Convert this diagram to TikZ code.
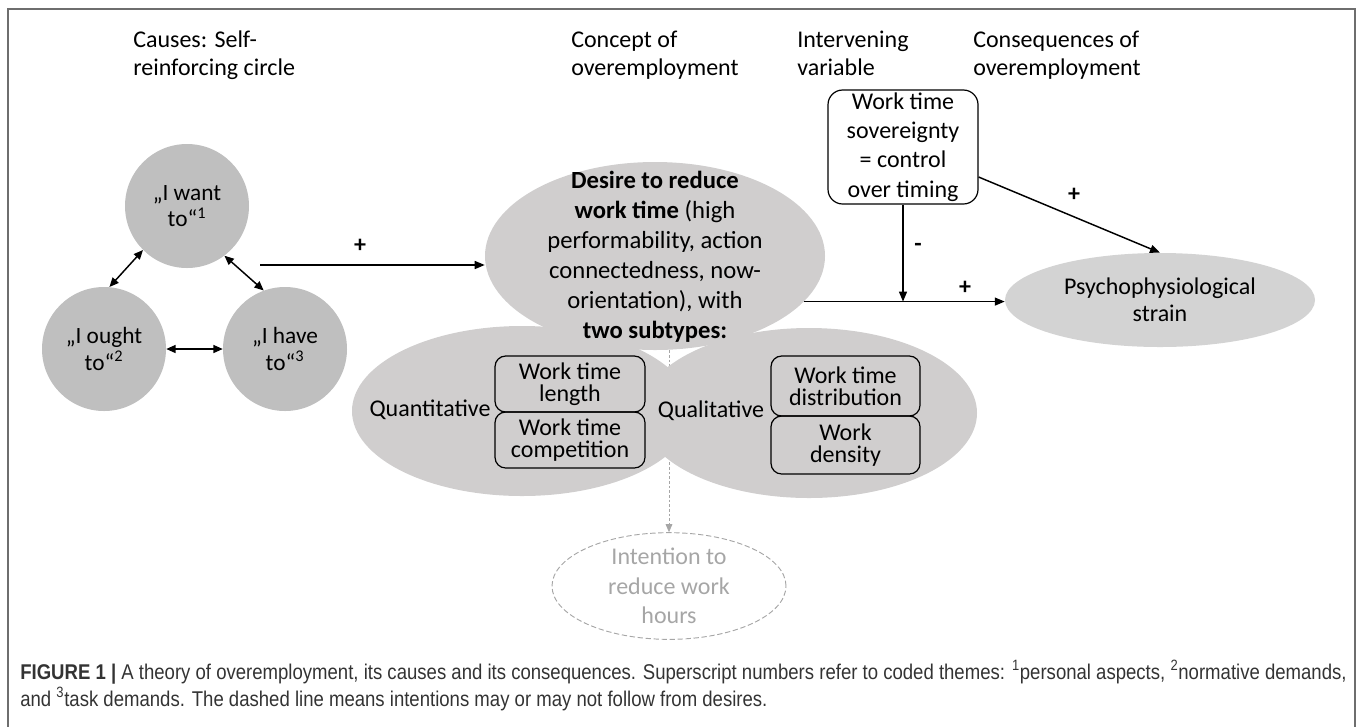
\documentclass[tikz,border=0pt]{standalone}
\usepackage{fontspec}
\setmainfont{Carlito}
\newfontfamily\capfont[FakeStretch=0.87]{Liberation Sans}
\usetikzlibrary{shapes.geometric,arrows.meta}
\definecolor{circfill}{HTML}{BFBFBF}
\definecolor{ellfill}{HTML}{D0CECE}
\definecolor{psyfill}{HTML}{D3D3D3}
\definecolor{dashgray}{HTML}{A6A6A6}
\definecolor{framegray}{HTML}{6E6E6E}
\definecolor{capgray}{HTML}{333333}
\begin{document}
\begin{tikzpicture}[x=0.75pt,y=-0.75pt,
  every node/.style={font=\fontsize{18}{21}\selectfont},
  hdr/.style={anchor=north west,align=left,inner sep=0pt},
  circ/.style={circle,fill=circfill,minimum size=93pt,inner sep=0pt,align=center,font=\fontsize{17.5}{20}\selectfont},
  ell/.style={ellipse,fill=ellfill,inner sep=0pt},
  arr/.style={-{Triangle[length=7.5pt,width=6pt]},line width=1.1pt},
  darr/.style={{Triangle[length=7pt,width=6pt]}-{Triangle[length=7pt,width=6pt]},line width=1.1pt},
  sign/.style={font=\bfseries\fontsize{18}{21}\selectfont,inner sep=0pt},
  rbox/.style={draw,rounded corners=8pt,line width=0.9pt,align=center,inner sep=0pt,font=\fontsize{18}{16.5}\selectfont},
  txt/.style={inner sep=0pt,align=center}
]
\useasboundingbox (0,0) rectangle (1358,726);
\draw[framegray,line width=0.9pt] (8,760) -- (8,9) -- (1355,9) -- (1355,760);

% headers
\node[hdr] (h1) at (133,31) {Causes: Self-\\reinforcing circle};
\node[hdr] (h2) at (571,31) {Concept of\\overemployment};
\node[hdr] (h3) at (797,31) {Intervening\\variable};
\node[hdr] (h4) at (973,31) {Consequences of\\overemployment};

% circles
\node[circ] (A) at (187,206) {„I want\\to“\textsuperscript{1}};
\node[circ] (B) at (104,349) {„I ought\\to“\textsuperscript{2}};
\node[circ] (C) at (285,349) {„I have\\to“\textsuperscript{3}};
\draw[darr] (A.225) -- (B.85);
\draw[darr] (A.-53) -- (C.110);
\draw[darr] (B.east) -- (C.west);

% big ellipse
\node[ell,minimum width=255pt,minimum height=141pt] (des) at (655,256) {};
\node[ellipse,draw=dashgray,dash pattern=on 4pt off 2pt,line width=0.7pt,minimum width=175.5pt,minimum height=73.5pt,inner sep=0pt,align=center,text=dashgray,font=\fontsize{18}{22}\selectfont] (int) at (669,586) {Intention to\\reduce work\\hours};
\draw[dashgray,line width=0.6pt,dash pattern=on 2pt off 1.5pt,-{Triangle[length=6pt,width=5pt]}] (int.north |- des.south) -- (int.north);
\node[ell,minimum width=255pt,minimum height=127.5pt] (qn) at (522,411) {};
\node[ell,minimum width=252pt,minimum height=127.5pt] (ql) at (809,413) {};
\node[txt,font=\fontsize{18.5}{22.5}\selectfont] (destext) at (655,257) {\textbf{Desire to reduce}\\\textbf{work time} (high\\performability, action\\connectedness, now-\\orientation), with\\\textbf{two subtypes:}};

\node[txt] (qnt) at (430,410) {Quantitative};
\node[txt] (qlt) at (711,411) {Qualitative};
\node[rbox,minimum width=112.5pt,minimum height=42pt] (b1) at (570,384) {Work time\\length};
\node[rbox,minimum width=112.5pt,minimum height=42pt] (b2) at (570,440) {Work time\\competition};
\node[rbox,minimum width=111.75pt,minimum height=45pt] (b3) at (845.5,386) {Work time\\distribution};
\node[rbox,minimum width=111.75pt,minimum height=43.5pt] (b4) at (845.5,445) {Work\\density};

% intervening box
\node[draw,rounded corners=11pt,line width=0.9pt,align=center,inner sep=0pt,minimum width=112.5pt,minimum height=85.5pt,font=\fontsize{18}{22}\selectfont] (sov) at (903,147) {Work time\\sovereignty\\= control\\over timing};

% psych
\node[ellipse,fill=psyfill,inner sep=0pt,minimum width=232.5pt,minimum height=70.5pt,align=center,font=\fontsize{18}{20}\selectfont] (psy) at (1160,300) {Psychophysiological\\strain};

% connectors
\coordinate (s1) at (260,265);
\draw[arr] (s1) -- (s1 -| des.west);
\node[sign] (p1) at (360,246) {+};
\draw[arr] (des.-17.7) -- (des.-17.7 -| psy.west);
\node[sign] (p2) at (965,288) {+};
\draw[arr] (sov.south) -- (sov.south |- des.-17.7);
\node[sign] (m1) at (918,247) {-};
\draw[arr] (sov.east |- 0,177) -- (psy.north);
\node[sign] (p3) at (1074,195) {+};

% caption
\node[anchor=base west,inner sep=0pt,text=capgray,font=\capfont\fontsize{16}{20}\selectfont] (cap1) at (20,679) {{\bfseries FIGURE 1 |} A theory of overemployment, its causes and its consequences. Superscript numbers refer to coded themes: \textsuperscript{1}personal aspects, \textsuperscript{2}normative demands,};
\node[anchor=base west,inner sep=0pt,text=capgray,font=\capfont\fontsize{16}{20}\selectfont] (cap2) at (20,706) {and \textsuperscript{3}task demands. The dashed line means intentions may or may not follow from desires.};
\end{tikzpicture}
\end{document}
